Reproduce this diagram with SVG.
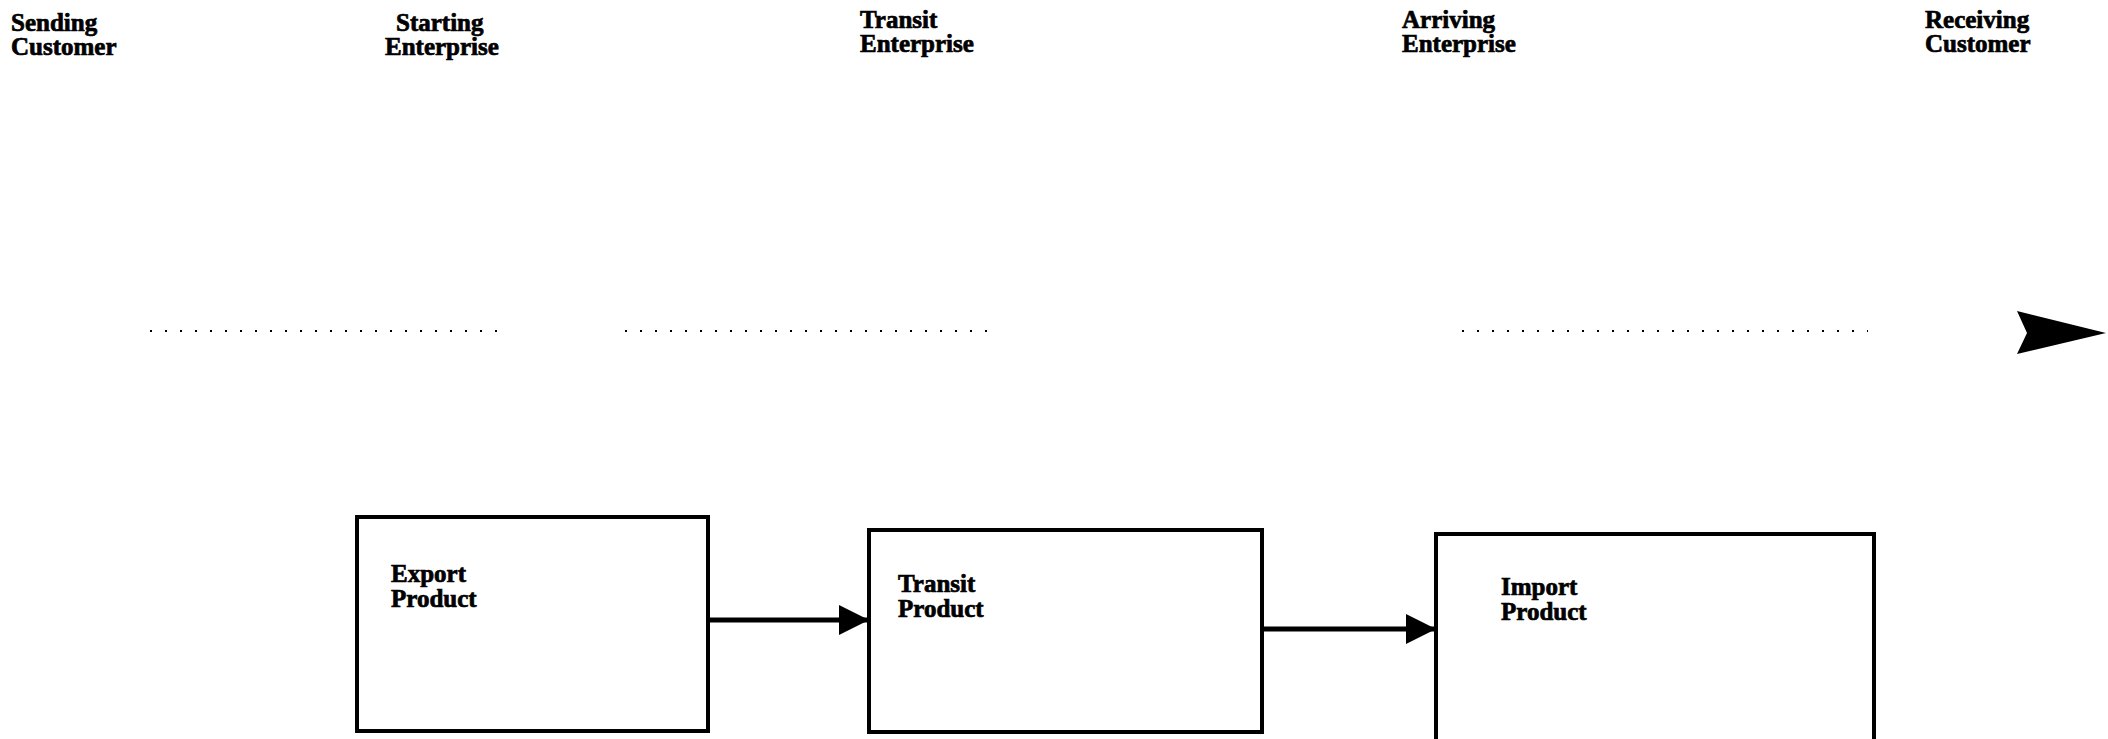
<svg xmlns="http://www.w3.org/2000/svg" width="2108" height="739" viewBox="0 0 2108 739">
  <style>
    .lbl { font-family: "Liberation Serif", "Times New Roman", serif; font-weight: bold; font-size: 25px; fill: #000; stroke: #000; stroke-width: 0.7; }
    .box { fill: #fff; stroke: #000; stroke-width: 4; }
    .link { stroke: #000; stroke-width: 5; fill: none; }
    .dots { stroke: #000; stroke-width: 2; stroke-dasharray: 2 13; fill: none; }
  </style>
  <defs>
    <marker id="head" viewBox="0 0 10 10" refX="10" refY="5" markerWidth="6" markerHeight="8" markerUnits="strokeWidth" orient="auto">
      <path d="M0,0 L10,5 L0,10 z" fill="#000"/>
    </marker>
  </defs>
  <rect width="2108" height="739" fill="#fff"/>

  <!-- column headings -->
  <g id="sending-customer">
    <text class="lbl" x="11" y="31">Sending</text>
    <text class="lbl" x="11" y="55">Customer</text>
  </g>
  <g id="starting-enterprise">
    <text class="lbl" x="396" y="31">Starting</text>
    <text class="lbl" x="385" y="55">Enterprise</text>
  </g>
  <g id="transit-enterprise">
    <text class="lbl" x="860" y="28">Transit</text>
    <text class="lbl" x="860" y="52">Enterprise</text>
  </g>
  <g id="arriving-enterprise">
    <text class="lbl" x="1402" y="28">Arriving</text>
    <text class="lbl" x="1402" y="52">Enterprise</text>
  </g>
  <g id="receiving-customer">
    <text class="lbl" x="1925" y="28">Receiving</text>
    <text class="lbl" x="1925" y="52">Customer</text>
  </g>

  <!-- product boxes -->
  <g id="export-product">
    <rect class="box" x="357" y="517" width="351" height="214"/>
    <text class="lbl" x="391" y="582">Export</text>
    <text class="lbl" x="391" y="607">Product</text>
  </g>
  <g id="transit-product">
    <rect class="box" x="869" y="530" width="393" height="202"/>
    <text class="lbl" x="898" y="592">Transit</text>
    <text class="lbl" x="898" y="617">Product</text>
  </g>
  <g id="import-product">
    <rect class="box" x="1436" y="534" width="438" height="210"/>
    <text class="lbl" x="1501" y="595">Import</text>
    <text class="lbl" x="1501" y="620">Product</text>
  </g>

  <!-- connectors -->
  <g id="connectors">
    <line class="dots" x1="150" y1="331" x2="505" y2="331"/>
    <line class="dots" x1="625" y1="331" x2="1000" y2="331"/>
    <line class="dots" x1="1462" y1="331" x2="1868" y2="331"/>
    <path d="M2017,311 L2106,333 L2017,354 L2027,333 z" fill="#000"/>
    <line class="link" x1="708" y1="620" x2="869" y2="620" marker-end="url(#head)"/>
    <line class="link" x1="1262" y1="629" x2="1436" y2="629" marker-end="url(#head)"/>
  </g>
</svg>
